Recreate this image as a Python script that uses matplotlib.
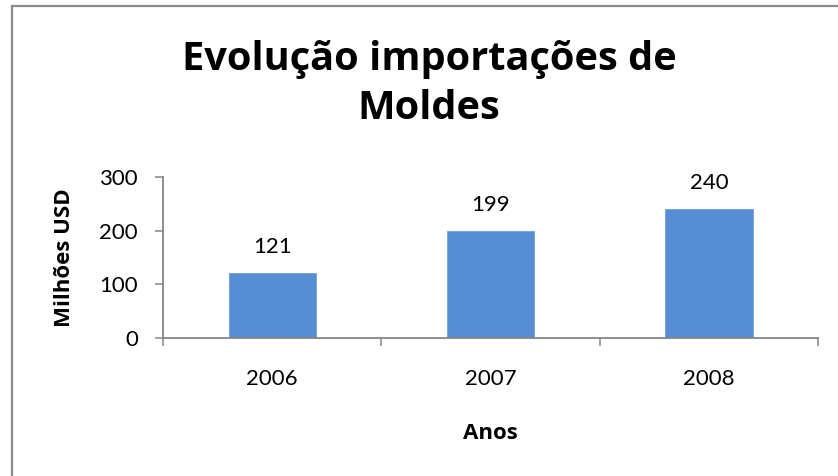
import matplotlib
matplotlib.use('Agg')
import matplotlib.pyplot as plt
from matplotlib.patches import Rectangle

plt.rcParams['font.family'] = ['Lato', 'DejaVu Sans']
bold_family = ['Open Sans', 'DejaVu Sans']

# Chart data
years = ['2006', '2007', '2008']
imports_musd = [121, 199, 240]
y_ticks = [0, 100, 200, 300]

W, H = 838, 476
fig = plt.figure(figsize=(W / 100, H / 100), dpi=100, facecolor='white')

# Axes placed in pixel terms of the reference
left, right, top, bottom = 163, 818, 177, 338
ax = fig.add_axes([left / W, 1 - bottom / H, (right - left) / W, (bottom - top) / H])

axis_grey = '#868686'
bar_blue = '#558ED5'

x = list(range(len(years)))
bars = ax.bar(x, imports_musd, width=0.4, color=bar_blue, edgecolor='#6F9FDC', linewidth=0.6)

ax.set_xlim(-0.5, len(years) - 0.5)
ax.set_ylim(0, 300)

# Major ticks at category boundaries, labels on minor ticks at the centres
ax.set_xticks([i - 0.5 for i in range(len(years) + 1)])
ax.set_xticklabels([])
ax.set_xticks(x, minor=True)
ax.set_xticklabels(years, minor=True)
ax.tick_params(axis='x', which='major', direction='out', length=6, width=1.1, color=axis_grey)
ax.tick_params(axis='x', which='minor', length=0, pad=22, labelsize=16)

ax.set_yticks(y_ticks)
ax.tick_params(axis='y', direction='out', length=6, width=1.1, color=axis_grey, labelsize=16, pad=12)

for side in ['top', 'right']:
    ax.spines[side].set_visible(False)
for side in ['left', 'bottom']:
    ax.spines[side].set_color(axis_grey)
    ax.spines[side].set_linewidth(1.3)

# Value labels above bars
for i, value in enumerate(imports_musd):
    ax.annotate(
        f'{value}',
        (x[i], value),
        xytext=(0, 19),
        textcoords='offset points',
        ha='center',
        va='center',
        fontsize=16
    )

ax.set_xlabel('Anos', fontweight='bold', fontsize=16, family=bold_family)
ax.xaxis.set_label_coords(0.5, -0.53)
ax.set_ylabel('Milhões USD', fontweight='bold', fontsize=16, family=bold_family)
ax.yaxis.set_label_coords(-0.134, 0.5)

fig.text(429 / W, 1 - 84 / H, 'Evolução importações de\nMoldes',
         ha='center', va='center', fontsize=28.6, fontweight='bold', linespacing=1.33,
         family=bold_family)

# Chart area border (only top and left edges visible in the reference)
fig.add_artist(Rectangle((12 / W, -0.1), 1.2, 1.1 - 6 / H, transform=fig.transFigure,
                         fill=False, edgecolor='#8C8C8C', linewidth=1.6))

fig.savefig('out.png', dpi=100)
